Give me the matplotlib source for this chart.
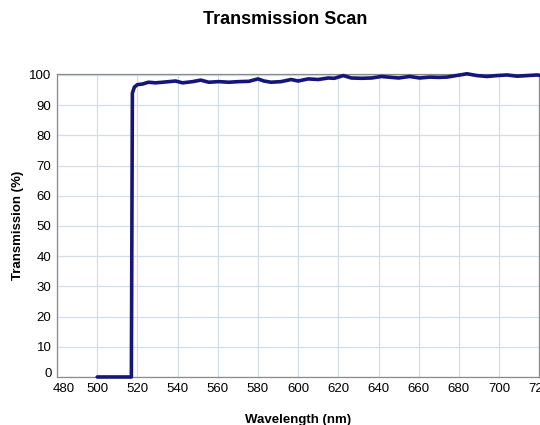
import matplotlib.pyplot as plt
from matplotlib.transforms import ScaledTranslation

plt.rcParams["font.family"] = ["Liberation Sans", "DejaVu Sans"]

# values
wavelength = [500, 517, 517.5, 518.5, 520, 522.5, 525.5, 529, 532.5, 539,
              542.5, 547.5, 551.5, 555.5, 560.5, 565.5, 570.5, 575.5, 580, 583,
              586.5, 591.5, 596.5, 600, 605, 610, 615, 618, 622.5, 626.5,
              631.5, 636.5, 641.5, 646.5, 650, 655.5, 660.5, 665.5, 670, 674,
              680.5, 684, 689, 694, 699, 704, 709, 714, 719, 720]
transmission = [0, 0, 94.0, 96.0, 96.8, 97.0, 97.6, 97.4, 97.6, 98.0,
                97.4, 97.8, 98.3, 97.6, 97.8, 97.6, 97.8, 97.9, 98.7, 98.0,
                97.6, 97.8, 98.5, 98.0, 98.7, 98.5, 99.0, 98.9, 99.8, 99.0,
                98.9, 99.0, 99.5, 99.2, 99.0, 99.5, 99.0, 99.3, 99.2, 99.3,
                100.0, 100.4, 99.8, 99.5, 99.8, 100.0, 99.6, 99.8, 100.0, 99.9]

x_ticks = list(range(480, 721, 20))
y_ticks = list(range(0, 101, 10))

fig = plt.figure(figsize=(5.4, 4.25), dpi=100)
ax = fig.add_axes([0.1056, 0.113, 0.893, 0.712])

ax.plot(wavelength, transmission, color="#16167a", linewidth=2.6,
        solid_joinstyle="round", solid_capstyle="round", clip_on=False, zorder=3)

ax.set_xlim(480, 720)
ax.set_ylim(0, 100.2)
ax.set_xticks(x_ticks)
ax.set_yticks(y_ticks)
ax.tick_params(axis="both", length=0, labelsize=9.5, pad=4)
ax.grid(True, color="#d3dee9", linewidth=0.9)
ax.set_axisbelow(True)
for spine in ax.spines.values():
    spine.set_color("#8a8a8a")
    spine.set_linewidth(0.9)

# nudge the corner labels apart, as in the scan
fig.canvas.draw()
ax.get_xticklabels()[0].set_transform(
    ax.get_xticklabels()[0].get_transform()
    + ScaledTranslation(5 / 72, 0, fig.dpi_scale_trans))
ax.get_yticklabels()[0].set_transform(
    ax.get_yticklabels()[0].get_transform()
    + ScaledTranslation(0, 3 / 72, fig.dpi_scale_trans))

ax.set_xlabel("Wavelength (nm)", fontsize=9.5, fontweight="bold", labelpad=14)
ax.set_ylabel("Transmission (%)", fontsize=9.5, fontweight="bold", labelpad=4)
fig.text(0.528, 0.953, "Transmission Scan", ha="center", va="center",
         fontsize=13, fontweight="bold")

fig.savefig("out.png", dpi=100)
